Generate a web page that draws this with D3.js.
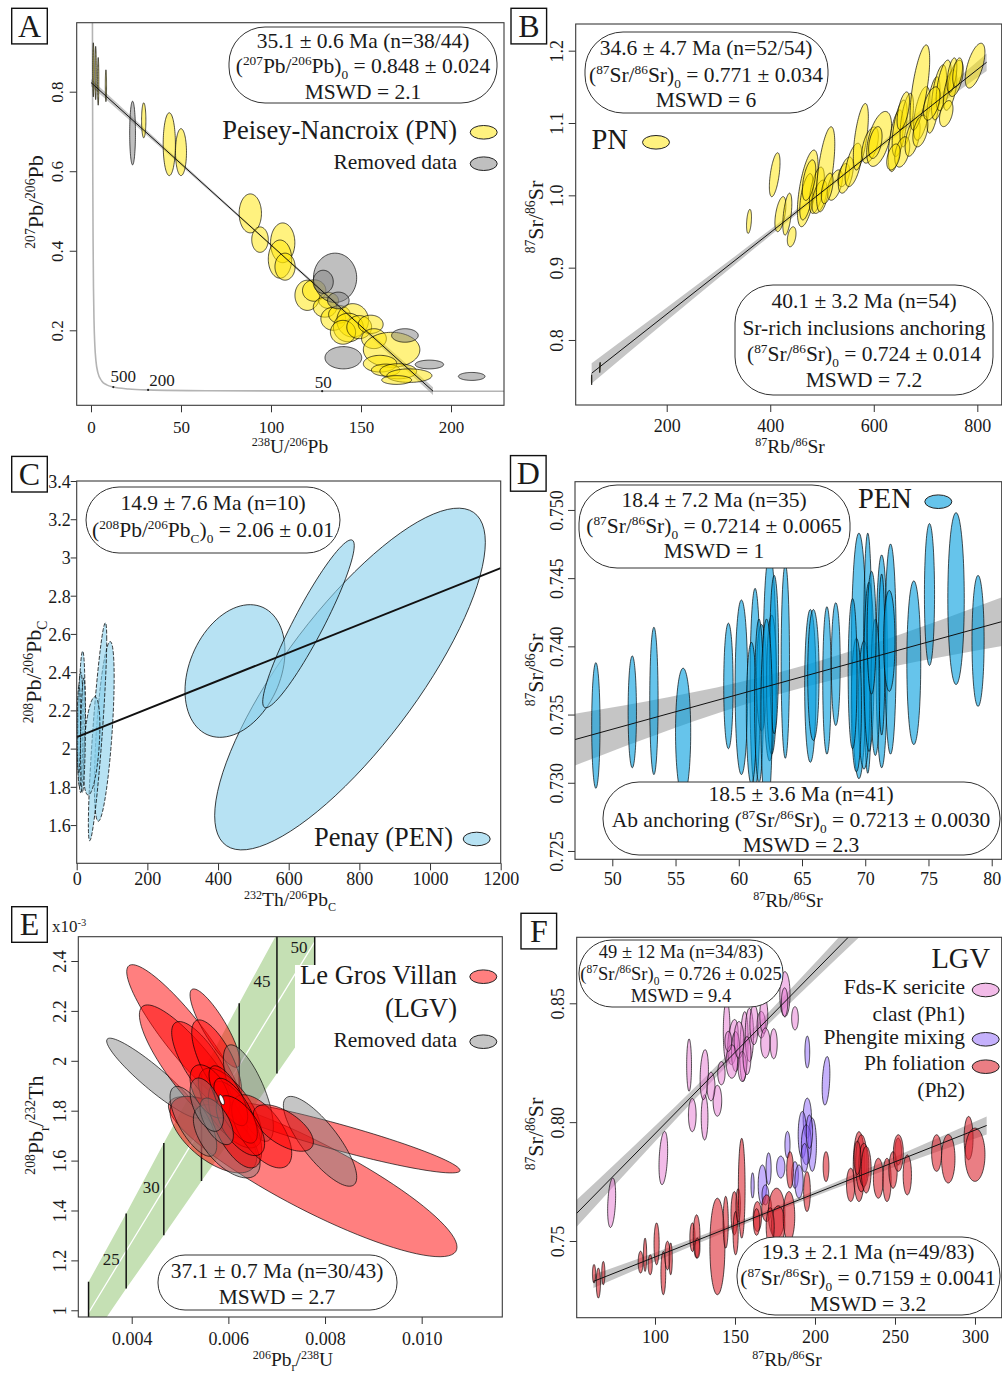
<!DOCTYPE html>
<html><head><meta charset="utf-8">
<script src="https://cdn.jsdelivr.net/npm/d3@7"></script>
<style>body{margin:0;background:#fff}svg{display:block}</style>
</head><body>
<script>
// ================= DATA =================
// Ellipses: [centre x, centre y, sigma x, sigma y, rho]
// Panel A  (238U/206Pb vs 207Pb/206Pb)
const aPN = [
 [1.3,0.855,0.35,0.068,0],[2.6,0.847,0.35,0.067,0],[4.0,0.826,0.35,0.060,0],[8.3,0.815,0.35,0.040,0],
 [29.3,0.728,1.2,0.044,0],[43.5,0.668,3.4,0.079,0],[50.0,0.648,3.05,0.059,0],
 [88.5,0.494,6.2,0.049,0],[93.9,0.428,4.6,0.032,0],[106.5,0.420,6.75,0.050,0],[105.0,0.379,6.5,0.048,0],
 [107.8,0.360,5.6,0.034,0],[120.2,0.288,6.9,0.038,0],[124,0.300,6.5,0.027,0],[132,0.275,5.5,0.020,0],
 [130,0.258,6.5,0.025,0],[134.6,0.229,6.9,0.029,0],[138,0.240,6.0,0.022,0],[145.4,0.225,8.8,0.042,0],
 [143,0.207,8.3,0.036,0],[140,0.195,7,0.030,0],[149,0.208,6.9,0.029,0],[155.4,0.215,6.9,0.023,0],
 [157.2,0.179,6.9,0.025,0],[167,0.151,15.7,0.044,0],[160.6,0.116,9.3,0.021,0],[163.7,0.100,7.9,0.015,0],
 [170.7,0.097,10.2,0.019,0],[176.9,0.086,12.5,0.017,0],[169.8,0.075,8.3,0.011,0]
];
const aRemoved = [
 [23.1,0.696,1.6,0.080,0],[135.6,0.332,12,0.062,0],[129,0.322,5.6,0.029,0],[137.4,0.275,6.0,0.021,0],
 [174.4,0.187,7.4,0.017,0],[140.2,0.131,10.2,0.028,0],[188,0.114,7.9,0.011,0],[211.5,0.084,7.4,0.010,0]
];
// Tera-Wasserburg concordia (age in Ma, 238U/206Pb, 207Pb/206Pb)
const concAge = [5200,5000,4500,4000,3500,3000,2500,2000,1500,1000,700,500,300,200,100,50,30,28];
const concU   = [0.8062,0.853,0.9902,1.1630,1.3869,1.6874,2.1108,2.7491,3.8168,5.9595,8.718,12.399,20.992,31.735,63.97,128.43,214.38,229.75];
const concPb  = [0.974,0.8457,0.5969,0.4252,0.3060,0.2227,0.1643,0.1230,0.0936,0.07253,0.06279,0.05724,0.05236,0.05013,0.04804,0.04704,0.04664,0.04661];
const concLabels = [["500",12.399,0.05724,10,-5],["200",31.735,0.05013,14,-4],["50",128.43,0.04704,1,-3]];
const regA = [[0,0.823],[190,0.047]];
const bandA = [[0,0.009],[95,0.003],[190,0.010]];

// Panel B (87Rb/86Sr vs 87Sr/86Sr)
const bPN = [
 [359,0.964,4.8,0.0166,0.35],[408.6,1.0285,10.3,0.0304,0.55],[419.6,0.974,10.6,0.0242,0.5],[433,0.974,8.7,0.029,0.5],
 [441.4,0.9427,8.4,0.0138,0.35],[472.4,1.0096,20,0.053,0.6],[470,0.998,13,0.032,0.55],[490,1.007,14.5,0.032,0.55],
 [495,0.998,14.5,0.023,0.5],[507,1.036,17.7,0.0588,0.6],[525,1.0142,14.5,0.021,0.5],[542,1.028,11.3,0.016,0.4],
 [546,1.028,14.5,0.025,0.5],[560.6,1.042,16,0.030,0.55],[575,1.081,14.5,0.046,0.6],[592.9,1.0695,16,0.025,0.5],
 [610.3,1.078,24,0.038,0.5],[603,1.073,13,0.022,0.4],[642.4,1.0755,14.5,0.0427,0.55],[650,1.0926,14.5,0.039,0.55],
 [663.7,1.104,13,0.037,0.55],[655,1.060,14.5,0.021,0.4],[675,1.080,14.5,0.026,0.5],[692.7,1.1133,16,0.037,0.55],
 [689,1.149,19,0.059,0.65],[715,1.125,13,0.039,0.55],[726,1.1424,14.5,0.038,0.55],[735,1.152,14.5,0.035,0.55],
 [747.4,1.1456,13,0.028,0.55],[758.4,1.1617,14.5,0.025,0.5],[795.7,1.1793,19,0.031,0.6],[740,1.113,13,0.018,0.4],
 [690,1.089,14.5,0.022,0.4],[638,1.053,13,0.018,0.4],[475,1.021,13,0.028,0.5],[510,1.0096,11.3,0.021,0.5],
 [657,1.117,12,0.026,0.55],[751,1.166,9.5,0.024,0.5],[762,1.170,9.5,0.020,0.4],[712,1.127,16,0.023,0.5]
];
const bInclusions = [[71,0.762,0.8,0.007,0.5],[55,0.745,0.4,0.007,0]];
const regB = [[55,0.754],[818,1.184]];
const bandB = [[55,0.014],[420,0.004],[600,0.003],[818,0.012]];

// Panel C (232Th/206Pbc vs 208Pb/206Pbc)
const cPENbig = [[773.5,2.364,383,0.894,0.80],[448,2.406,141.5,0.347,0.30],[656,2.653,129.5,0.439,0.93]];
const cPENsmall = [[78,2.09,28,0.47,0.6],[59,2.088,26,0.57,0.85],[42,2.014,23.6,0.257,0.4],[14,2.14,9.5,0.37,0.3],
 [10,2.10,8,0.30,0.2],[6,2.10,5,0.23,0.1],[18,2.07,7,0.30,0.3]];
const regC = [[0,2.06],[1200,2.944]];

// Panel D (87Rb/86Sr vs 87Sr/86Sr)
const dPEN = [
 [48.7,0.7342,0.33,0.0046],[51.58,0.7352,0.33,0.0041],[53.29,0.7360,0.33,0.0054],[55.6,0.7337,0.6,0.0047],
 [59.18,0.7371,0.37,0.0046],[60.21,0.7370,0.5,0.0064],[61.29,0.73695,0.4,0.0073],[61.0,0.7351,0.4,0.0052],
 [61.8,0.7377,0.4,0.0039],[62.44,0.7392,0.5,0.0076],[62.6,0.7372,0.4,0.0051],[62.8,0.7394,0.35,0.0058],
 [63.68,0.7389,0.33,0.0071],[65.66,0.7371,0.45,0.0056],[65.9,0.7379,0.45,0.0048],[66.97,0.7375,0.33,0.0054],
 [67.67,0.7387,0.35,0.0045],[69.5,0.7393,0.6,0.0090],[70.2,0.7395,0.33,0.0088],[69.9,0.7357,0.45,0.0047],
 [70.3,0.7385,0.4,0.0062],[71.3,0.7389,0.45,0.0078],[71.3,0.7394,0.26,0.0059],[72.0,0.7398,0.45,0.0077],
 [71.9,0.7404,0.45,0.0037],[73.84,0.7388,0.55,0.0060],[75.08,0.7438,0.4,0.0052],[77.18,0.7435,0.65,0.0063],
 [78.92,0.7404,0.48,0.0048],[69.3,0.7357,0.4,0.0049],[70.8,0.7370,0.35,0.0050],[61.6,0.7360,0.35,0.0060],
 [62.2,0.7350,0.45,0.0070],[70.5,0.7410,0.35,0.0045],[69.0,0.7380,0.35,0.0055]
];
const regD = [[46,0.7329],[82,0.74212]];
const bandD = [[46,0.0020],[63,0.0008],[82,0.0019]];

// Panel E (206Pb/238U vs 208Pb/232Th x1e-3)
const eRedBack = [[0.007745,1.536,0.002986,0.3213,-0.88],[0.008207,1.6973,0.002586,0.1467,-0.93]];
const eGrayBack = [[0.004448,1.9307,0.000966,0.16,-0.93],[0.007897,1.6773,0.000759,0.18,-0.8]];
const eRedMid = [[0.005069,2.104,0.001172,0.2813,-0.9],[0.005276,1.9573,0.001117,0.2667,-0.85],
 [0.005724,2.1307,0.000517,0.1573,-0.85],[0.005462,1.984,0.000635,0.1733,-0.75],[0.005759,1.9973,0.000517,0.1667,-0.7],
 [0.00569,1.704,0.000897,0.1533,-0.6]];
const eGrayMid = [[0.006414,1.8707,0.000517,0.1933,-0.7],[0.005276,1.7573,0.000483,0.14,-0.7],[0.005966,1.6773,0.00069,0.1467,-0.6]];
const eRedTop = [[0.006035,1.8107,0.000655,0.16,-0.65],[0.006138,1.744,0.000552,0.1733,-0.6],[0.00669,1.7173,0.000621,0.1467,-0.6],
 [0.007138,1.7307,0.000621,0.0933,-0.6],[0.005621,1.8773,0.000414,0.1067,-0.5],
 [0.00600,1.860,0.00040,0.120,-0.7],[0.00615,1.800,0.00045,0.130,-0.7],[0.00625,1.740,0.00050,0.120,-0.6]];
const eGrayTop = [[0.005759,1.7573,0.000345,0.0933,-0.6],[0.005552,1.824,0.000345,0.1067,-0.5]];
const eWhite = [[0.005862,1.844,0.0000552,0.02,-0.6]];
// Th-U concordia (age Ma, 206Pb/238U, 208Pb/232Th x1e-3, band half-width)
const thAge = [20,25,30,35,40,45,50];
const thX = [0.0031073,0.0038857,0.0046646,0.0054441,0.0062243,0.0070051,0.0077864];
const thY = [0.98999,1.23765,1.48535,1.73313,1.98096,2.22886,2.47681];
const thHW = [0.124,0.150,0.185,0.215,0.250,0.280,0.310];
const thLabels = [["25",1,-15,14],["30",2,-12.6,3.5],["45",5,-15,-16.6],["50",6,-15.7,11]];

// Panel F (87Rb/86Sr vs 87Sr/86Sr)
const fPink = [
 [72.9,0.7661,2.5,0.0104,0.3],[105.2,0.7849,2.7,0.0112,0.3],[121.3,0.8240,1.5,0.0110,0],[123.3,0.8030,2.4,0.0070,0],
 [131.0,0.8020,2.1,0.0095,0],[130.8,0.8200,2.6,0.0105,0.2],[139.0,0.8090,2.7,0.0065,0],[141.5,0.8206,2.3,0.0049,0],
 [144.8,0.8380,2.1,0.0130,0],[148.75,0.8337,3.3,0.0095,0.3],[150.4,0.8297,2.6,0.0084,0],[155.6,0.8318,2.6,0.0147,0.2],
 [159.0,0.8367,2.6,0.0112,0],[161.9,0.8410,2.6,0.0084,0],[166.4,0.8410,2.6,0.0056,0],[168,0.8450,2.5,0.0076,0],
 [169,0.8333,2.9,0.0063,0],[174.2,0.8330,2.2,0.0063,0],[181.2,0.8538,3.2,0.0095,0],[181.0,0.8505,2.0,0.0060,0],
 [187.5,0.8437,2.1,0.0049,0],[148.0,0.8255,3.6,0.0070,0],[152.5,0.8346,3.1,0.0077,0],[154.5,0.8234,2.6,0.0063,0],
 [145.8,0.8340,2.1,0.0042,0],[157.5,0.8280,2.5,0.0080,0],[135,0.8150,2.5,0.0060,0]
];
const fPurple = [
 [195.2,0.8295,1.5,0.0067,0],[206.9,0.8174,2.4,0.0102,0.3],[195.2,0.8017,2.6,0.0084,0],[192.1,0.7947,2.6,0.0098,0],
 [198.3,0.7905,2.6,0.0112,0],[194.6,0.7905,3.1,0.0084,0],[182.8,0.7905,1.6,0.0056,0],[178.6,0.7811,2.6,0.0046,0],
 [161.0,0.7734,1.0,0.0053,0],[167.1,0.7736,2.6,0.0084,0],[171.0,0.7804,1.6,0.0067,0],[187.5,0.7778,2.1,0.0056,0],
 [190.0,0.7750,2.6,0.0070,0],[169.0,0.7694,2.1,0.0042,0],[196.5,0.7960,2.0,0.0070,0],[193.5,0.7850,2.2,0.0060,0]
];
const fRed = [
 [61.9,0.7362,1.0,0.0039,0],[64.6,0.7323,1.3,0.0063,0],[67.7,0.7365,1.0,0.0049,0],[91.0,0.7411,1.5,0.0046,0],
 [93.8,0.7442,1.0,0.0070,0],[97.0,0.7400,1.3,0.0042,0],[101.0,0.7488,1.6,0.0088,0],[105.2,0.7365,1.5,0.0091,0],
 [107.8,0.7439,1.6,0.0060,0],[109.8,0.7425,1.0,0.0067,0],[123.4,0.7516,1.6,0.0060,0],[126.0,0.7519,2.1,0.0091,0],
 [126.5,0.7470,1.6,0.0042,0],[139.0,0.7477,4.7,0.0203,0],[144.2,0.7579,1.6,0.0109,0],[149.6,0.7617,2.1,0.0091,0],
 [150.4,0.7533,1.6,0.0091,0],[152.0,0.7650,1.4,0.0070,0],[154.2,0.7722,2.1,0.0210,0],[164.0,0.7603,2.6,0.0063,0],
 [169.8,0.7638,3.1,0.0056,0],[176.0,0.7617,5.2,0.0105,0],[177.0,0.7568,4.2,0.0080,0],[183.75,0.7603,3.6,0.0105,0],
 [184.4,0.7799,2.1,0.0077,0],[195.0,0.7708,2.1,0.0084,0],[206.9,0.7813,1.8,0.0063,0],[222.3,0.7736,2.6,0.0070,0],
 [227.5,0.7813,3.6,0.0147,0],[229.0,0.7827,3.6,0.0120,0],[230.5,0.7820,3.1,0.0091,0],[232.0,0.7800,3.1,0.0098,0],
 [226.5,0.7850,2.1,0.0070,0],[239.6,0.7764,3.1,0.0084,0],[245.0,0.7757,2.6,0.0091,0],[248.8,0.7799,2.6,0.0077,0],
 [252.0,0.7877,2.1,0.0056,0],[252.1,0.7870,3.1,0.0077,0],[257.7,0.7778,2.6,0.0084,0],[276.0,0.7870,3.1,0.0077,0],
 [283.3,0.7846,4.2,0.0102,0],[296.0,0.7933,2.8,0.0091,0],[300.0,0.7863,6.25,0.0112,0],[163.5,0.7580,2.0,0.0056,0],
 [172,0.7560,2.5,0.0080,0]
];
const regF1 = [[45,0.7575],[235,0.8875]];
const bandF1 = [[45,0.006],[150,0.0022],[235,0.005]];
const regF2 = [[61.5,0.7330],[307.3,0.7986]];
const bandF2 = [[61.5,0.0028],[180,0.0010],[307.3,0.0038]];

// Tick values
const aXT=[0,50,100,150,200], aYT=[0.2,0.4,0.6,0.8];
const bXT=[200,400,600,800], bYT=[0.8,0.9,1.0,1.1,1.2];
const cXT=[0,200,400,600,800,1000,1200], cYT=[1.6,1.8,2,2.2,2.4,2.6,2.8,3,3.2,3.4];
const dXT=[50,55,60,65,70,75,80], dYT=[0.725,0.730,0.735,0.740,0.745,0.750];
const eXT=[0.004,0.006,0.008,0.010], eYT=[1,1.2,1.4,1.6,1.8,2,2.2,2.4];
const fXT=[100,150,200,250,300], fYT=[0.75,0.80,0.85];

// Annotation texts
const statsA=["35.1 ± 0.6 Ma (n=38/44)","(^{207}Pb/^{206}Pb)_{0} = 0.848 ± 0.024","MSWD = 2.1"];
const statsB1=["34.6 ± 4.7 Ma (n=52/54)","(^{87}Sr/^{86}Sr)_{0} = 0.771 ± 0.034","MSWD = 6"];
const statsB2=["40.1 ± 3.2 Ma (n=54)","Sr-rich inclusions anchoring","(^{87}Sr/^{86}Sr)_{0} = 0.724 ± 0.014","MSWD = 7.2"];
const statsC=["14.9 ± 7.6 Ma (n=10)","(^{208}Pb/^{206}Pb_{C})_{0} = 2.06 ± 0.01"];
const statsD1=["18.4 ± 7.2 Ma (n=35)","(^{87}Sr/^{86}Sr)_{0} = 0.7214 ± 0.0065","MSWD = 1"];
const statsD2=["18.5 ± 3.6 Ma (n=41)","Ab anchoring (^{87}Sr/^{86}Sr)_{0} = 0.7213 ± 0.0030","MSWD = 2.3"];
const statsE=["37.1 ± 0.7 Ma (n=30/43)","MSWD = 2.7"];
const statsF1=["49 ± 12 Ma (n=34/83)","(^{87}Sr/^{86}Sr)_{0} = 0.726 ± 0.025","MSWD = 9.4"];
const statsF2=["19.3 ± 2.1 Ma (n=49/83)","(^{87}Sr/^{86}Sr)_{0} = 0.7159 ± 0.0041","MSWD = 3.2"];

// ================= DRAWING =================
const FONT='"Liberation Serif","Times New Roman",Times,serif';
const INK='#1a1a1a';
const XT_FS=19.5, YT_FS=22;
const svg=d3.select('body').append('svg').attr('width',1002).attr('height',1375);
let clipN=0;

function rich(t,str,fs){
  const parts=str.match(/(\^\{[^}]*\}|_\{[^}]*\}|[^^_]+)/g)||[];
  let shift=0;
  parts.forEach(p=>{
    let s=0,small=false,txt=p;
    if(p.startsWith('^{')){txt=p.slice(2,-1);s=-0.38;small=true;}
    else if(p.startsWith('_{')){txt=p.slice(2,-1);s=0.26;small=true;}
    const ts=t.append('tspan').text(txt).attr('dy',((s-shift)*fs).toFixed(2));
    if(small) ts.attr('font-size',(fs*0.62).toFixed(2));
    shift=s;
  });
}
function txt(parent,x,y,str,fs,anchor='middle',rot=false){
  const t=parent.append('text').attr('font-size',fs).attr('text-anchor',anchor)
    .attr('font-family',FONT).attr('fill',INK);
  if(rot) t.attr('transform',`translate(${x},${y}) rotate(-90)`);
  else t.attr('x',x).attr('y',y);
  rich(t,str,fs);
  return t;
}
function panel(c){
  const x=d3.scaleLinear().domain(c.xd).range([c.fr[0],c.fr[1]]);
  const y=d3.scaleLinear().domain(c.yd).range([c.fr[3],c.fr[2]]);
  const g=svg.append('g');
  const id='clip'+(clipN++);
  svg.append('clipPath').attr('id',id).append('rect')
    .attr('x',c.fr[0]).attr('y',c.fr[2]).attr('width',c.fr[1]-c.fr[0]).attr('height',c.fr[3]-c.fr[2]);
  const plot=g.append('g').attr('clip-path',`url(#${id})`);
  const xa=g.append('g').attr('transform',`translate(0,${c.fr[3]})`)
    .call(d3.axisBottom(x).tickValues(c.xt).tickFormat(c.xf).tickSizeOuter(0).tickSize(7));
  xa.attr('font-family',null).attr('font-size',null);
  xa.select('.domain').remove();
  xa.selectAll('line').attr('stroke','#333');
  xa.selectAll('text').attr('y',c.xlab).attr('dy',0).attr('font-size',c.tfs).attr('font-family',FONT).attr('fill',INK);
  const ya=g.append('g').attr('transform',`translate(${c.fr[0]},0)`)
    .call(d3.axisLeft(y).tickValues(c.yt).tickFormat(c.yf).tickSizeOuter(0).tickSize(c.ytl||7));
  ya.attr('font-family',null).attr('font-size',null);
  ya.select('.domain').remove();
  ya.selectAll('line').attr('stroke','#333');
  const yt=ya.selectAll('text').attr('font-size',c.tfs).attr('font-family',FONT).attr('fill',INK);
  if(c.yrot) yt.attr('transform','rotate(-90)').attr('x',0).attr('y',-c.ylab).attr('dy',0).attr('text-anchor','middle');
  else yt.attr('x',-c.ylab).attr('dy','0.35em').attr('text-anchor','end');
  return {x,y,g,plot,c};
}
function frame(P){
  const f=P.c.fr;
  P.g.append('rect').attr('x',f[0]).attr('y',f[2]).attr('width',f[1]-f[0]).attr('height',f[3]-f[2])
    .attr('fill','none').attr('stroke','#3a3a3a').attr('stroke-width',1.1);
}
function ellD(P,e){
  const [cx,cy,sx,sy,rho=0]=e;
  const k=Math.sqrt(1-rho*rho);
  const pts=d3.range(90).map(i=>{const t=i/90*2*Math.PI;
    return [P.x(cx+sx*Math.cos(t)),P.y(cy+sy*(rho*Math.cos(t)+k*Math.sin(t)))];});
  return d3.line().curve(d3.curveLinearClosed)(pts);
}
function ells(P,list,fill,op,o={}){
  P.plot.append('g').selectAll('path').data(list).join('path')
    .attr('d',e=>ellD(P,e)).attr('fill',fill).attr('fill-opacity',op)
    .attr('stroke',o.stroke||'#000').attr('stroke-width',o.sw||0.8).attr('stroke-opacity',o.so||0.85)
    .attr('stroke-dasharray',o.dash||null);
}
function regLine(P,pts,band,o={}){
  const [p0,p1]=pts;
  const f=v=>p0[1]+(p1[1]-p0[1])*(v-p0[0])/(p1[0]-p0[0]);
  if(band){
    P.plot.append('path').datum(band)
      .attr('d',d3.area().curve(d3.curveMonotoneX).x(d=>P.x(d[0])).y0(d=>P.y(f(d[0])-d[1])).y1(d=>P.y(f(d[0])+d[1])))
      .attr('fill','#8c8c8c').attr('fill-opacity',0.5);
  }
  return ()=>P.plot.append('line').attr('x1',P.x(p0[0])).attr('y1',P.y(p0[1])).attr('x2',P.x(p1[0])).attr('y2',P.y(p1[1]))
    .attr('stroke','#111').attr('stroke-width',o.w||1);
}
function statBox(x,y,w,h,r,cx,bases,lines,fs){
  svg.append('rect').attr('x',x).attr('y',y).attr('width',w).attr('height',h).attr('rx',r).attr('ry',r)
    .attr('fill','#fff').attr('stroke','#333').attr('stroke-width',1);
  lines.forEach((l,i)=>txt(svg,cx,bases[i],l,fs));
}
function legEll(cx,cy,fill,op){
  svg.append('ellipse').attr('cx',cx).attr('cy',cy).attr('rx',13.5).attr('ry',6.8)
    .attr('fill',fill).attr('fill-opacity',op).attr('stroke','#222').attr('stroke-width',1);
}
function letterBox(x,y,L){
  svg.append('rect').attr('x',x).attr('y',y).attr('width',35.6).attr('height',35.6)
    .attr('fill','#fff').attr('stroke','#111').attr('stroke-width',1.4);
  txt(svg,x+17.8,y+28.5,L,32);
}
const fmt1=d3.format('.1f'), fmtD=d3.format('d'), fmtG=d=>String(+d.toFixed(2));

// ---------- Panel A ----------
const A=panel({fr:[76.7,504,22.7,405.3],xd:[-7.94,229.44],yd:[0.0114,0.9735],xt:aXT,yt:aYT,xf:fmtD,yf:fmt1,xlab:28,ylab:14,yrot:true,tfs:17});
A.plot.append('path').datum(concU.map((u,i)=>[u,concPb[i]]))
  .attr('d',d3.line().curve(d3.curveMonotoneX).x(d=>A.x(d[0])).y(d=>A.y(d[1])))
  .attr('fill','none').attr('stroke','#b4b4b4').attr('stroke-width',1.6);
concLabels.forEach(([l,u,p,dx,dy])=>{
  A.plot.append('circle').attr('cx',A.x(u)).attr('cy',A.y(p)).attr('r',1.1).attr('fill','#222');
  txt(A.g,A.x(u)+dx,A.y(p)+dy,l,17);
});
const lineA=regLine(A,regA,bandA);
ells(A,aPN,'#ffe600',0.5);
ells(A,aRemoved,'#808080',0.5);
lineA();
statBox(229,27,268,76,36,363,[48,73,99],statsA,21.5);
txt(svg,457,138.5,'Peisey-Nancroix (PN)',26.5,'end');
txt(svg,457,168.5,'Removed data',21.5,'end');
legEll(483.7,132.3,'#ffe600',0.5);
legEll(483.7,163.7,'#808080',0.5);
frame(A);
txt(svg,290,453,'^{238}U/^{206}Pb',XT_FS);
txt(svg,43,202,'^{207}Pb/^{206}Pb',YT_FS,'middle',true);
letterBox(11.7,8.3,'A');

// ---------- Panel B ----------
const B=panel({fr:[575.7,1001.7,24,405],xd:[24.2,847.1],yd:[0.7101,1.2369],xt:bXT,yt:bYT,xf:fmtD,yf:fmt1,xlab:27,ylab:13,yrot:true,tfs:18});
const lineB=regLine(B,regB,bandB);
ells(B,bPN,'#ffe600',0.5);
ells(B,bInclusions,'#8a7a00',0.7,{sw:1});
lineB();
statBox(585,32,243,81,38,706,[55,82,107],statsB1,21.5);
statBox(735,285,258,110,38,864,[308,335,361,387],statsB2,21.5);
txt(svg,591.5,149,'PN',28.5,'start');
legEll(656,142.3,'#ffe600',0.5);
frame(B);
txt(svg,790,453,'^{87}Rb/^{86}Sr',XT_FS);
txt(svg,543,217,'^{87}Sr/^{86}Sr',YT_FS,'middle',true);
letterBox(511,8.3,'B');

// ---------- Panel C ----------
const C=panel({fr:[76.7,500.7,481,863.3],xd:[0,1200],yd:[1.4,3.4],xt:cXT,yt:cYT,xf:fmtD,yf:fmtG,xlab:22,ylab:6,ytl:6,yrot:false,tfs:18});
ells(C,cPENbig,'#87ceeb',0.6,{sw:0.9});
ells(C,cPENsmall,'#87ceeb',0.6,{sw:0.9,dash:'4,1.6'});
regLine(C,regC,null,{w:2})();
statBox(86,487,254,66,33,213,[510,537],statsC,21.5);
txt(svg,453,846,'Penay (PEN)',26.5,'end');
legEll(476.7,839,'#87ceeb',0.6);
frame(C);
txt(svg,290,906,'^{232}Th/^{206}Pb_{C}',XT_FS);
txt(svg,41,672,'^{208}Pb/^{206}Pb_{C}',YT_FS,'middle',true);
letterBox(11.7,456.4,'C');

// ---------- Panel D ----------
const D=panel({fr:[575,1001.7,481.7,859.3],xd:[47.05,80.79],yd:[0.72439,0.75207],xt:dXT,yt:dYT,xf:fmtD,yf:d3.format('.3f'),xlab:26,ylab:12,yrot:true,tfs:18});
const lineD=regLine(D,regD,bandD);
ells(D,dPEN,'#009dde',0.6);
lineD();
statBox(579,485,271,83,38,714,[507,533,558],statsD1,21.5);
statBox(603,782,397,73,36,801,[801,827,852],statsD2,21.5);
txt(svg,858,508.3,'PEN',28.5,'start');
legEll(938.3,501.7,'#009dde',0.6);
frame(D);
txt(svg,788,907,'^{87}Rb/^{86}Sr',XT_FS);
txt(svg,543,670,'^{87}Sr/^{86}Sr',YT_FS,'middle',true);
letterBox(510.5,455.6,'D');

// ---------- Panel E ----------
const E=panel({fr:[78.3,502.3,936.7,1317],xd:[0.002895,0.011668],yd:[0.9731,2.4974],xt:eXT,yt:eYT,xf:d3.format('.3f'),yf:fmtG,xlab:28,ylab:12,yrot:true,tfs:18});
const thPts=thAge.map((a,i)=>[thX[i],thY[i],thHW[i]]);
const bandPoly=thPts.map(d=>[E.x(d[0]),E.y(d[1]+d[2])]).concat(thPts.slice().reverse().map(d=>[E.x(d[0]),E.y(d[1]-d[2])]));
E.plot.append('path').attr('d',d3.line()(bandPoly)+'Z').attr('fill','#c5e0b4');
E.plot.append('path').datum(thPts).attr('d',d3.line().x(d=>E.x(d[0])).y(d=>E.y(d[1])))
  .attr('fill','none').attr('stroke','#fff').attr('stroke-width',1.3);
E.plot.selectAll('line.tk').data(thPts).join('line')
  .attr('x1',d=>E.x(d[0])).attr('x2',d=>E.x(d[0])).attr('y1',d=>E.y(d[1]-d[2])).attr('y2',d=>E.y(d[1]+d[2]))
  .attr('stroke','#111').attr('stroke-width',1.5);
thLabels.forEach(([l,i,dx,dy])=>txt(E.g,E.x(thX[i])+dx,E.y(thY[i])+dy,l,17));
ells(E,eRedBack,'#ff0000',0.5);
ells(E,eGrayBack,'#7f7f7f',0.45);
ells(E,eRedMid,'#ff0000',0.5);
ells(E,eGrayMid,'#7f7f7f',0.45);
ells(E,eRedTop,'#ff0000',0.5);
ells(E,eGrayTop,'#7f7f7f',0.45);
ells(E,eWhite,'#ffffff',1,{sw:1});
svg.append('rect').attr('x',295).attr('y',965).attr('width',206).attr('height',84).attr('fill','#fff');
txt(svg,457,984,'Le Gros Villan',26.5,'end');
txt(svg,457,1016.7,'(LGV)',26.5,'end');
txt(svg,457,1046.7,'Removed data',21.5,'end');
legEll(483.3,976.7,'#ff0000',0.5);
legEll(483.3,1041.7,'#7f7f7f',0.45);
statBox(158,1255,239,55,27,277,[1278,1304],statsE,21.5);
frame(E);
txt(svg,52,932,'x10^{-3}',17,'start');
txt(svg,293,1366,'^{206}Pb_{r}/^{238}U',XT_FS);
txt(svg,43,1125,'^{208}Pb_{r}/^{232}Th',YT_FS,'middle',true);
letterBox(11.7,906.7,'E');

// ---------- Panel F ----------
const F=panel({fr:[576.7,1001.7,937.3,1317.7],xd:[51.06,316.7],yd:[0.71773,0.87777],xt:fXT,yt:fYT,xf:fmtD,yf:d3.format('.2f'),xlab:25,ylab:13,yrot:true,tfs:18});
const lineF1=regLine(F,regF1,bandF1);
const lineF2=regLine(F,regF2,bandF2);
ells(F,fPink,'#e678d2',0.5);
ells(F,fPurple,'#8c64fa',0.5);
ells(F,fRed,'#dc2832',0.6);
statBox(579,940,204,67,33,681,[958,980,1002],statsF1,18.5);
lineF1(); lineF2();
statBox(737,1237,263,78,38,868,[1259,1285,1311],statsF2,21.5);
txt(svg,990,968.3,'LGV',28.5,'end');
txt(svg,965,994.3,'Fds-K sericite',21.5,'end');
txt(svg,965,1021,'clast (Ph1)',21.5,'end');
txt(svg,965,1044.3,'Phengite mixing',21.5,'end');
txt(svg,965,1070,'Ph foliation',21.5,'end');
txt(svg,965,1096.7,'(Ph2)',21.5,'end');
legEll(985.7,990,'#e678d2',0.5);
legEll(985.7,1039.3,'#8c64fa',0.5);
legEll(985.7,1066.7,'#dc2832',0.6);
frame(F);
txt(svg,787,1366,'^{87}Rb/^{86}Sr',XT_FS);
txt(svg,543,1134,'^{87}Sr/^{86}Sr',YT_FS,'middle',true);
letterBox(521,913.3,'F');
</script>
</body></html>
